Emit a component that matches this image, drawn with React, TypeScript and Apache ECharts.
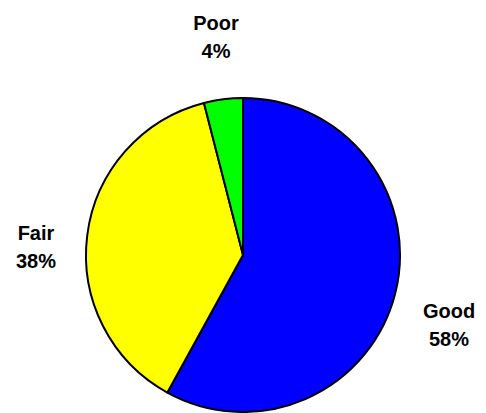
import React, { useEffect, useRef } from "react";
import * as echarts from "echarts";

const categories = ["Good", "Fair", "Poor"];
const values = [58, 38, 4];
const colors = ["#0000FF", "#FFFF00", "#00FF00"];
const labelPos: [number, number][] = [
  [449, 325],
  [36, 247],
  [216, 37],
];

export default function App() {
  const ref = useRef<HTMLDivElement>(null);
  useEffect(() => {
    if (!ref.current) return;
    const chart = echarts.init(ref.current, undefined, { renderer: "svg" });
    chart.setOption({
      animation: false,
      backgroundColor: "#ffffff",
      series: [
        {
          type: "pie",
          center: [243, 255],
          radius: 157,
          startAngle: 90,
          clockwise: true,
          silent: true,
          data: categories.map((c, i) => ({
            name: c,
            value: values[i],
            itemStyle: { color: colors[i], borderColor: "#000", borderWidth: 2 },
          })),
          label: {
            show: true,
            position: "outside",
            alignTo: "none",
            overflow: "none",
            formatter: (p: any) => `${p.name}\n${p.value}%`,
            fontFamily: "Liberation Sans, Arial, sans-serif",
            fontWeight: "bold",
            fontSize: 20,
            lineHeight: 28,
            color: "#000",
          },
          labelLine: { show: false },
          labelLayout: (params: any) => {
            const pos = labelPos[params.dataIndex];
            return { x: pos[0], y: pos[1], align: "center", verticalAlign: "middle" };
          },
        },
      ],
    });
    return () => chart.dispose();
  }, []);
  return (
    <div
      ref={ref}
      style={{ position: "fixed", left: 0, top: 0, width: 486, height: 413 }}
    />
  );
}
